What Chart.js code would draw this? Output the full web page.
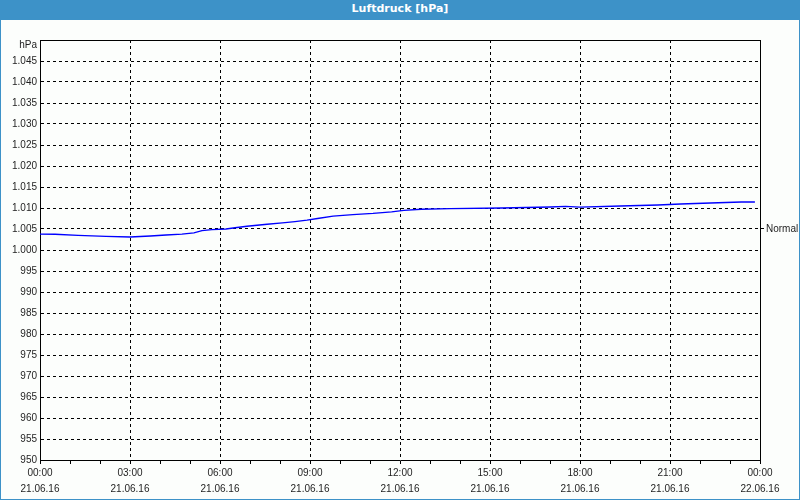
<!DOCTYPE html>
<html>
<head>
<meta charset="utf-8">
<script src="https://cdn.jsdelivr.net/npm/chart.js@4.4.1/dist/chart.umd.min.js"></script>
<style>
  html, body { margin: 0; padding: 0; background: #fcfefc; }
  #frame { position: absolute; left: 0; top: 0; width: 800px; height: 500px; box-sizing: border-box;
           border: 1px solid #3d92c8; border-top: none; background: #fcfefc; }
  #head { position: absolute; left: 0; top: 0; width: 800px; height: 20px; background: #3d92c8;
          color: #ffffff; font: bold 11px Tahoma, "DejaVu Sans", sans-serif; text-align: center; line-height: 18px; }
  #c { position: absolute; left: 1px; top: 20px; }
</style>
</head>
<body>
<div id="frame"></div>
<div id="head">Luftdruck [hPa]</div>
<canvas id="c" width="798" height="478"></canvas>
<script>
// Hours since 21.06.16 00:00 and pressure values in hPa
const hours = [0.0, 0.5, 1.27, 2.2, 3.0, 3.68, 4.2, 4.73, 5.13, 5.4, 5.73, 6.2,
  6.5, 6.9, 7.57, 8.08, 8.5, 8.9, 9.25, 9.77, 10.43, 11.1, 11.72, 12.13,
  12.7, 13.67, 15.4, 17.0, 17.52, 18.0, 19.35, 20.6, 21.35, 22.35, 23.38, 23.83];
const pressure = [1003.8, 1003.75, 1003.5, 1003.25, 1003.1, 1003.33, 1003.57, 1003.8, 1004.1, 1004.6, 1004.85, 1005.0,
  1005.3, 1005.65, 1006.13, 1006.45, 1006.77, 1007.1, 1007.5, 1008.06, 1008.4, 1008.7, 1009.1, 1009.44,
  1009.7, 1009.84, 1010.0, 1010.24, 1010.4, 1010.2, 1010.48, 1010.71, 1010.95, 1011.19, 1011.43, 1011.43];
const timeLabels = ['00:00','03:00','06:00','09:00','12:00','15:00','18:00','21:00','00:00'];
const dateLabels = ['21.06.16','21.06.16','21.06.16','21.06.16','21.06.16','21.06.16','21.06.16','21.06.16','22.06.16'];
const yMin = 950, yMax = 1050, yStep = 5;
const yUnit = 'hPa';
const normalValue = 1005;
const normalLabel = 'Normal';

function fmt(v) {
  const s = String(Math.round(v));
  return s.length > 3 ? s.slice(0, s.length - 3) + '.' + s.slice(-3) : s;
}

const points = hours.map((h, i) => ({ x: h, y: pressure[i] }));
const FONT = { family: 'Tahoma, "Liberation Sans", Arial, sans-serif', size: 10 };
const TXT = '#1e1e1e';

const frameBorder = {
  id: 'frameBorder',
  beforeDatasetsDraw(chart) {
    const a = chart.chartArea, ctx = chart.ctx;
    ctx.save();
    ctx.strokeStyle = '#000';
    ctx.lineWidth = 1;
    ctx.setLineDash([]);
    ctx.beginPath();
    ctx.moveTo(Math.round(a.left) + 0.5, Math.round(a.top) + 0.5);
    ctx.lineTo(Math.round(a.right) + 0.5, Math.round(a.top) + 0.5);
    ctx.lineTo(Math.round(a.right) + 0.5, Math.round(a.bottom) + 0.5);
    ctx.stroke();
    ctx.restore();
  }
};

new Chart(document.getElementById('c'), {
  type: 'line',
  data: {
    datasets: [{
      data: points,
      borderColor: '#0000ff',
      borderWidth: 1.3,
      pointRadius: 0,
      tension: 0,
      fill: false
    }]
  },
  options: {
    responsive: false,
    animation: false,
    devicePixelRatio: 1,
    layout: { padding: { top: 20, left: 0, right: 0, bottom: 0 } },
    plugins: { legend: { display: false }, tooltip: { enabled: false }, title: { display: false } },
    scales: {
      x: {
        type: 'linear', min: 0, max: 24,
        afterFit(s) { s.height = 38; },
        ticks: {
          stepSize: 1, autoSkip: false, maxRotation: 0, minRotation: 0, padding: 1,
          color: TXT, font: Object.assign({ lineHeight: 1.6 }, FONT),
          callback(v) {
            if (v % 3 !== 0) return '';
            const i = v / 3;
            return [timeLabels[i], dateLabels[i]];
          }
        },
        grid: {
          color(ctx) { return (ctx.tick && ctx.tick.value % 3 === 0) ? '#000' : 'rgba(0,0,0,0)'; },
          tickColor: '#000', tickLength: 4, lineWidth: 1, drawTicks: true
        },
        border: { display: true, color: '#000', width: 1, dash: [3, 3] }
      },
      y: {
        type: 'linear', min: yMin, max: yMax, position: 'left',
        afterFit(s) { s.width = 39; },
        ticks: {
          stepSize: yStep, autoSkip: false, padding: 3, color: TXT, font: Object.assign({ lineHeight: 1.0 }, FONT),
          callback(v) { return v === yMax ? ['', yUnit] : fmt(v); }
        },
        grid: { color: '#000', drawTicks: false, lineWidth: 1 },
        border: { display: true, color: '#000', width: 1, dash: [3, 3] }
      },
      y2: {
        type: 'linear', min: yMin, max: yMax, position: 'right',
        afterFit(s) { s.width = 39; },
        afterBuildTicks(s) { s.ticks = [{ value: normalValue }]; },
        ticks: { padding: 2, color: TXT, font: FONT, callback() { return normalLabel; } },
        grid: { drawOnChartArea: false, tickColor: '#000', tickLength: 4, drawTicks: true },
        border: { display: true, color: '#000', width: 1 }
      }
    }
  },
  plugins: [frameBorder]
});
</script>
</body>
</html>
